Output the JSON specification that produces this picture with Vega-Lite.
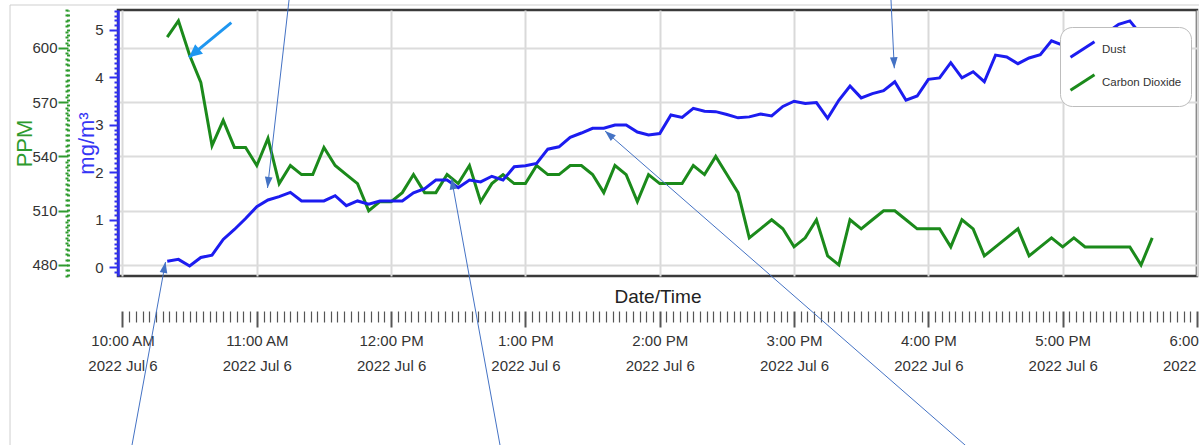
{
  "$schema": "https://vega.github.io/schema/vega-lite/v6.json",
  "width": 1079,
  "height": 266,
  "autosize": "none",
  "padding": {"left": 118, "top": 10, "right": 2, "bottom": 169},
  "background": "white",
  "config": {
    "view": {"stroke": "#3a3a3a", "strokeWidth": 2.5},
    "axis": {
      "labelFont": "Liberation Sans, Arial, sans-serif",
      "titleFont": "Liberation Sans, Arial, sans-serif",
      "titleFontWeight": "normal"
    },
    "legend": {"labelFont": "Liberation Sans, Arial, sans-serif"}
  },
  "datasets": {
    "readings": [
      {"time": "2022-07-06T10:20:00", "dust": 0.13, "co2": 606},
      {"time": "2022-07-06T10:25:00", "dust": 0.17, "co2": 615},
      {"time": "2022-07-06T10:30:00", "dust": 0.03, "co2": 596},
      {"time": "2022-07-06T10:35:00", "dust": 0.21, "co2": 581},
      {"time": "2022-07-06T10:40:00", "dust": 0.26, "co2": 546},
      {"time": "2022-07-06T10:45:00", "dust": 0.59, "co2": 560},
      {"time": "2022-07-06T10:50:00", "dust": 0.80, "co2": 545},
      {"time": "2022-07-06T10:55:00", "dust": 1.03, "co2": 545},
      {"time": "2022-07-06T11:00:00", "dust": 1.28, "co2": 535},
      {"time": "2022-07-06T11:05:00", "dust": 1.42, "co2": 550},
      {"time": "2022-07-06T11:10:00", "dust": 1.49, "co2": 525},
      {"time": "2022-07-06T11:15:00", "dust": 1.58, "co2": 535},
      {"time": "2022-07-06T11:20:00", "dust": 1.40, "co2": 530},
      {"time": "2022-07-06T11:25:00", "dust": 1.40, "co2": 530},
      {"time": "2022-07-06T11:30:00", "dust": 1.40, "co2": 545},
      {"time": "2022-07-06T11:35:00", "dust": 1.51, "co2": 535},
      {"time": "2022-07-06T11:40:00", "dust": 1.30, "co2": 530},
      {"time": "2022-07-06T11:45:00", "dust": 1.40, "co2": 525},
      {"time": "2022-07-06T11:50:00", "dust": 1.33, "co2": 510},
      {"time": "2022-07-06T11:55:00", "dust": 1.40, "co2": 515},
      {"time": "2022-07-06T12:00:00", "dust": 1.40, "co2": 515},
      {"time": "2022-07-06T12:05:00", "dust": 1.40, "co2": 520},
      {"time": "2022-07-06T12:10:00", "dust": 1.57, "co2": 530},
      {"time": "2022-07-06T12:15:00", "dust": 1.66, "co2": 520},
      {"time": "2022-07-06T12:20:00", "dust": 1.84, "co2": 520},
      {"time": "2022-07-06T12:25:00", "dust": 1.84, "co2": 530},
      {"time": "2022-07-06T12:30:00", "dust": 1.68, "co2": 525},
      {"time": "2022-07-06T12:35:00", "dust": 1.84, "co2": 535},
      {"time": "2022-07-06T12:40:00", "dust": 1.80, "co2": 515},
      {"time": "2022-07-06T12:45:00", "dust": 1.92, "co2": 525},
      {"time": "2022-07-06T12:50:00", "dust": 1.84, "co2": 530},
      {"time": "2022-07-06T12:55:00", "dust": 2.12, "co2": 525},
      {"time": "2022-07-06T13:00:00", "dust": 2.14, "co2": 525},
      {"time": "2022-07-06T13:05:00", "dust": 2.19, "co2": 535},
      {"time": "2022-07-06T13:10:00", "dust": 2.49, "co2": 530},
      {"time": "2022-07-06T13:15:00", "dust": 2.54, "co2": 530},
      {"time": "2022-07-06T13:20:00", "dust": 2.74, "co2": 535},
      {"time": "2022-07-06T13:25:00", "dust": 2.83, "co2": 535},
      {"time": "2022-07-06T13:30:00", "dust": 2.93, "co2": 530},
      {"time": "2022-07-06T13:35:00", "dust": 2.93, "co2": 520},
      {"time": "2022-07-06T13:40:00", "dust": 3.00, "co2": 535},
      {"time": "2022-07-06T13:45:00", "dust": 3.00, "co2": 530},
      {"time": "2022-07-06T13:50:00", "dust": 2.85, "co2": 515},
      {"time": "2022-07-06T13:55:00", "dust": 2.79, "co2": 530},
      {"time": "2022-07-06T14:00:00", "dust": 2.82, "co2": 525},
      {"time": "2022-07-06T14:05:00", "dust": 3.21, "co2": 525},
      {"time": "2022-07-06T14:10:00", "dust": 3.16, "co2": 525},
      {"time": "2022-07-06T14:15:00", "dust": 3.35, "co2": 535},
      {"time": "2022-07-06T14:20:00", "dust": 3.29, "co2": 530},
      {"time": "2022-07-06T14:25:00", "dust": 3.28, "co2": 540},
      {"time": "2022-07-06T14:30:00", "dust": 3.22, "co2": 530},
      {"time": "2022-07-06T14:35:00", "dust": 3.15, "co2": 520},
      {"time": "2022-07-06T14:40:00", "dust": 3.17, "co2": 495},
      {"time": "2022-07-06T14:45:00", "dust": 3.23, "co2": 500},
      {"time": "2022-07-06T14:50:00", "dust": 3.19, "co2": 505},
      {"time": "2022-07-06T14:55:00", "dust": 3.39, "co2": 500},
      {"time": "2022-07-06T15:00:00", "dust": 3.50, "co2": 490},
      {"time": "2022-07-06T15:05:00", "dust": 3.45, "co2": 495},
      {"time": "2022-07-06T15:10:00", "dust": 3.47, "co2": 505},
      {"time": "2022-07-06T15:15:00", "dust": 3.14, "co2": 485},
      {"time": "2022-07-06T15:20:00", "dust": 3.52, "co2": 480},
      {"time": "2022-07-06T15:25:00", "dust": 3.82, "co2": 505},
      {"time": "2022-07-06T15:30:00", "dust": 3.57, "co2": 500},
      {"time": "2022-07-06T15:35:00", "dust": 3.66, "co2": 505},
      {"time": "2022-07-06T15:40:00", "dust": 3.72, "co2": 510},
      {"time": "2022-07-06T15:45:00", "dust": 3.91, "co2": 510},
      {"time": "2022-07-06T15:50:00", "dust": 3.52, "co2": 505},
      {"time": "2022-07-06T15:55:00", "dust": 3.61, "co2": 500},
      {"time": "2022-07-06T16:00:00", "dust": 3.96, "co2": 500},
      {"time": "2022-07-06T16:05:00", "dust": 3.99, "co2": 500},
      {"time": "2022-07-06T16:10:00", "dust": 4.31, "co2": 490},
      {"time": "2022-07-06T16:15:00", "dust": 3.99, "co2": 505},
      {"time": "2022-07-06T16:20:00", "dust": 4.12, "co2": 500},
      {"time": "2022-07-06T16:25:00", "dust": 3.91, "co2": 485},
      {"time": "2022-07-06T16:30:00", "dust": 4.47, "co2": 490},
      {"time": "2022-07-06T16:35:00", "dust": 4.43, "co2": 495},
      {"time": "2022-07-06T16:40:00", "dust": 4.29, "co2": 500},
      {"time": "2022-07-06T16:45:00", "dust": 4.41, "co2": 485},
      {"time": "2022-07-06T16:50:00", "dust": 4.48, "co2": 490},
      {"time": "2022-07-06T16:55:00", "dust": 4.77, "co2": 495},
      {"time": "2022-07-06T17:00:00", "dust": 4.68, "co2": 490},
      {"time": "2022-07-06T17:05:00", "dust": 4.75, "co2": 495},
      {"time": "2022-07-06T17:10:00", "dust": 4.85, "co2": 490},
      {"time": "2022-07-06T17:15:00", "dust": 4.80, "co2": 490},
      {"time": "2022-07-06T17:20:00", "dust": 4.95, "co2": 490},
      {"time": "2022-07-06T17:25:00", "dust": 5.12, "co2": 490},
      {"time": "2022-07-06T17:30:00", "dust": 5.19, "co2": 490},
      {"time": "2022-07-06T17:35:00", "dust": 4.90, "co2": 480},
      {"time": "2022-07-06T17:40:00", "co2": 495}
    ],
    "arrows": [
      {"id": "A1", "t0": "2022-07-06T11:14:37", "v0": 5.715, "t1": "2022-07-06T11:04:47", "v1": 1.673},
      {"id": "A2", "t0": "2022-07-06T10:03:56", "v0": -3.822, "t1": "2022-07-06T10:19:13", "v1": 0.115},
      {"id": "A3", "t0": "2022-07-06T12:48:58", "v0": -3.822, "t1": "2022-07-06T12:26:59", "v1": 1.873},
      {"id": "A4", "t0": "2022-07-06T16:18:25", "v0": -3.822, "t1": "2022-07-06T13:35:33", "v1": 2.873},
      {"id": "A5", "t0": "2022-07-06T15:43:13", "v0": 5.715, "t1": "2022-07-06T15:44:47", "v1": 4.193},
      {"id": "A6", "t0": "2022-07-06T10:48:37", "v0": 5.153, "t1": "2022-07-06T10:29:43", "v1": 4.424}
    ],
    "frame": [
      {"t0": "2022-07-06T09:09:46", "t1": "2022-07-06T18:10:00", "v0": 5.525, "v1": 5.525},
      {"t0": "2022-07-06T09:09:46", "t1": "2022-07-06T09:09:46", "v0": 5.525, "v1": -4.0}
    ]
  },
  "layer": [
    {
      "data": {"name": "readings"},
      "mark": {"type": "line", "strokeWidth": 3},
      "encoding": {
        "x": {
          "field": "time", "type": "temporal",
          "scale": {"domain": [{"year": 2022, "month": 7, "date": 6, "hours": 9, "minutes": 58}, {"year": 2022, "month": 7, "date": 6, "hours": 18}]},
          "axis": {
            "orient": "bottom", "offset": 35, "domain": false,
            "values": [
              {"year": 2022, "month": 7, "date": 6, "hours": 10},
              {"year": 2022, "month": 7, "date": 6, "hours": 11},
              {"year": 2022, "month": 7, "date": 6, "hours": 12},
              {"year": 2022, "month": 7, "date": 6, "hours": 13},
              {"year": 2022, "month": 7, "date": 6, "hours": 14},
              {"year": 2022, "month": 7, "date": 6, "hours": 15},
              {"year": 2022, "month": 7, "date": 6, "hours": 16},
              {"year": 2022, "month": 7, "date": 6, "hours": 17},
              {"year": 2022, "month": 7, "date": 6, "hours": 18}
            ],
            "grid": true, "gridColor": "#d9d9d9", "gridWidth": 2,
            "tickColor": "#555555", "tickWidth": 2, "tickSize": 16,
            "labelExpr": "[timeFormat(datum.value, '%-I:%M %p'), timeFormat(datum.value, '%Y %b %-d')]",
            "labelOverlap": false, "labelFlush": false, "labelBound": false,
            "labelFontSize": 15, "labelColor": "#333333", "labelPadding": 6, "labelLineHeight": 25, "labelBaseline": "top",
            "title": "Date/Time", "titleFontSize": 19, "titleColor": "#222222", "titleY": -15, "titleBaseline": "middle"
          }
        },
        "y": {
          "field": "co2", "type": "quantitative",
          "scale": {"domain": [473.9, 621], "nice": false, "zero": false},
          "axis": {
            "orient": "left", "offset": 50,
            "values": [474,477,480,483,486,489,492,495,498,501,504,507,510,513,516,519,522,525,528,531,534,537,540,543,546,549,552,555,558,561,564,567,570,573,576,579,582,585,588,591,594,597,600,603,606,609,612,615,618,621],
            "grid": true, "gridColor": "#dcdcdc", "gridWidth": 2,
            "gridOpacity": {"condition": {"test": "datum.value % 30 == 0", "value": 1}, "value": 0},
            "domain": true, "domainColor": "#2e9b2e", "domainWidth": 3, "domainDash": [2, 3],
            "tickColor": "#2e9b2e",
            "tickSize": {"condition": {"test": "datum.value % 30 == 0", "value": 10}, "value": 3},
            "tickWidth": 2,
            "labelExpr": "datum.value % 30 == 0 ? datum.label : ''",
            "labelOverlap": false, "labelBound": false,
            "labelFontSize": 15, "labelColor": "#333333", "labelPadding": 1,
            "title": "PPM", "titleColor": "#2e9b2e", "titleFontSize": 22,
            "titleX": -44, "titleY": 133, "titleBaseline": "middle", "titleAlign": "center", "titleAngle": -90
          }
        },
        "color": {
          "datum": "Carbon Dioxide", "type": "nominal",
          "scale": {"domain": ["Dust", "Carbon Dioxide"], "range": ["#1c1cf0", "#1b8a1b"]},
          "legend": {
            "orient": "none", "legendX": 942, "legendY": 17, "title": null,
            "fillColor": "white", "strokeColor": "#bdbdbd", "cornerRadius": 12, "padding": 9,
            "symbolType": "M-1,0.65L1,-0.65", "symbolSize": 576, "symbolStrokeWidth": 3,
            "labelFontSize": 11.5, "labelColor": "#333333", "labelOffset": 6, "rowPadding": 4
          }
        }
      }
    },
    {
      "layer": [
        {
          "data": {"name": "readings"},
          "mark": {"type": "line", "strokeWidth": 3},
          "encoding": {
            "x": {
              "field": "time", "type": "temporal",
              "scale": {"domain": [{"year": 2022, "month": 7, "date": 6, "hours": 9, "minutes": 58}, {"year": 2022, "month": 7, "date": 6, "hours": 18}]},
              "axis": {
                "orient": "bottom", "offset": 35, "domain": false, "grid": false, "labels": false, "title": null,
                "tickColor": "#555555", "tickWidth": 1.2, "tickSize": 11,
                "values": [
                  {"year":2022,"month":7,"date":6,"hours":10,"minutes":3},{"year":2022,"month":7,"date":6,"hours":10,"minutes":6},{"year":2022,"month":7,"date":6,"hours":10,"minutes":9},{"year":2022,"month":7,"date":6,"hours":10,"minutes":12},{"year":2022,"month":7,"date":6,"hours":10,"minutes":15},{"year":2022,"month":7,"date":6,"hours":10,"minutes":18},{"year":2022,"month":7,"date":6,"hours":10,"minutes":21},{"year":2022,"month":7,"date":6,"hours":10,"minutes":24},{"year":2022,"month":7,"date":6,"hours":10,"minutes":27},{"year":2022,"month":7,"date":6,"hours":10,"minutes":30},{"year":2022,"month":7,"date":6,"hours":10,"minutes":33},{"year":2022,"month":7,"date":6,"hours":10,"minutes":36},{"year":2022,"month":7,"date":6,"hours":10,"minutes":39},{"year":2022,"month":7,"date":6,"hours":10,"minutes":42},{"year":2022,"month":7,"date":6,"hours":10,"minutes":45},{"year":2022,"month":7,"date":6,"hours":10,"minutes":48},{"year":2022,"month":7,"date":6,"hours":10,"minutes":51},{"year":2022,"month":7,"date":6,"hours":10,"minutes":54},{"year":2022,"month":7,"date":6,"hours":10,"minutes":57},
                  {"year":2022,"month":7,"date":6,"hours":11,"minutes":3},{"year":2022,"month":7,"date":6,"hours":11,"minutes":6},{"year":2022,"month":7,"date":6,"hours":11,"minutes":9},{"year":2022,"month":7,"date":6,"hours":11,"minutes":12},{"year":2022,"month":7,"date":6,"hours":11,"minutes":15},{"year":2022,"month":7,"date":6,"hours":11,"minutes":18},{"year":2022,"month":7,"date":6,"hours":11,"minutes":21},{"year":2022,"month":7,"date":6,"hours":11,"minutes":24},{"year":2022,"month":7,"date":6,"hours":11,"minutes":27},{"year":2022,"month":7,"date":6,"hours":11,"minutes":30},{"year":2022,"month":7,"date":6,"hours":11,"minutes":33},{"year":2022,"month":7,"date":6,"hours":11,"minutes":36},{"year":2022,"month":7,"date":6,"hours":11,"minutes":39},{"year":2022,"month":7,"date":6,"hours":11,"minutes":42},{"year":2022,"month":7,"date":6,"hours":11,"minutes":45},{"year":2022,"month":7,"date":6,"hours":11,"minutes":48},{"year":2022,"month":7,"date":6,"hours":11,"minutes":51},{"year":2022,"month":7,"date":6,"hours":11,"minutes":54},{"year":2022,"month":7,"date":6,"hours":11,"minutes":57},
                  {"year":2022,"month":7,"date":6,"hours":12,"minutes":3},{"year":2022,"month":7,"date":6,"hours":12,"minutes":6},{"year":2022,"month":7,"date":6,"hours":12,"minutes":9},{"year":2022,"month":7,"date":6,"hours":12,"minutes":12},{"year":2022,"month":7,"date":6,"hours":12,"minutes":15},{"year":2022,"month":7,"date":6,"hours":12,"minutes":18},{"year":2022,"month":7,"date":6,"hours":12,"minutes":21},{"year":2022,"month":7,"date":6,"hours":12,"minutes":24},{"year":2022,"month":7,"date":6,"hours":12,"minutes":27},{"year":2022,"month":7,"date":6,"hours":12,"minutes":30},{"year":2022,"month":7,"date":6,"hours":12,"minutes":33},{"year":2022,"month":7,"date":6,"hours":12,"minutes":36},{"year":2022,"month":7,"date":6,"hours":12,"minutes":39},{"year":2022,"month":7,"date":6,"hours":12,"minutes":42},{"year":2022,"month":7,"date":6,"hours":12,"minutes":45},{"year":2022,"month":7,"date":6,"hours":12,"minutes":48},{"year":2022,"month":7,"date":6,"hours":12,"minutes":51},{"year":2022,"month":7,"date":6,"hours":12,"minutes":54},{"year":2022,"month":7,"date":6,"hours":12,"minutes":57},
                  {"year":2022,"month":7,"date":6,"hours":13,"minutes":3},{"year":2022,"month":7,"date":6,"hours":13,"minutes":6},{"year":2022,"month":7,"date":6,"hours":13,"minutes":9},{"year":2022,"month":7,"date":6,"hours":13,"minutes":12},{"year":2022,"month":7,"date":6,"hours":13,"minutes":15},{"year":2022,"month":7,"date":6,"hours":13,"minutes":18},{"year":2022,"month":7,"date":6,"hours":13,"minutes":21},{"year":2022,"month":7,"date":6,"hours":13,"minutes":24},{"year":2022,"month":7,"date":6,"hours":13,"minutes":27},{"year":2022,"month":7,"date":6,"hours":13,"minutes":30},{"year":2022,"month":7,"date":6,"hours":13,"minutes":33},{"year":2022,"month":7,"date":6,"hours":13,"minutes":36},{"year":2022,"month":7,"date":6,"hours":13,"minutes":39},{"year":2022,"month":7,"date":6,"hours":13,"minutes":42},{"year":2022,"month":7,"date":6,"hours":13,"minutes":45},{"year":2022,"month":7,"date":6,"hours":13,"minutes":48},{"year":2022,"month":7,"date":6,"hours":13,"minutes":51},{"year":2022,"month":7,"date":6,"hours":13,"minutes":54},{"year":2022,"month":7,"date":6,"hours":13,"minutes":57},
                  {"year":2022,"month":7,"date":6,"hours":14,"minutes":3},{"year":2022,"month":7,"date":6,"hours":14,"minutes":6},{"year":2022,"month":7,"date":6,"hours":14,"minutes":9},{"year":2022,"month":7,"date":6,"hours":14,"minutes":12},{"year":2022,"month":7,"date":6,"hours":14,"minutes":15},{"year":2022,"month":7,"date":6,"hours":14,"minutes":18},{"year":2022,"month":7,"date":6,"hours":14,"minutes":21},{"year":2022,"month":7,"date":6,"hours":14,"minutes":24},{"year":2022,"month":7,"date":6,"hours":14,"minutes":27},{"year":2022,"month":7,"date":6,"hours":14,"minutes":30},{"year":2022,"month":7,"date":6,"hours":14,"minutes":33},{"year":2022,"month":7,"date":6,"hours":14,"minutes":36},{"year":2022,"month":7,"date":6,"hours":14,"minutes":39},{"year":2022,"month":7,"date":6,"hours":14,"minutes":42},{"year":2022,"month":7,"date":6,"hours":14,"minutes":45},{"year":2022,"month":7,"date":6,"hours":14,"minutes":48},{"year":2022,"month":7,"date":6,"hours":14,"minutes":51},{"year":2022,"month":7,"date":6,"hours":14,"minutes":54},{"year":2022,"month":7,"date":6,"hours":14,"minutes":57},
                  {"year":2022,"month":7,"date":6,"hours":15,"minutes":3},{"year":2022,"month":7,"date":6,"hours":15,"minutes":6},{"year":2022,"month":7,"date":6,"hours":15,"minutes":9},{"year":2022,"month":7,"date":6,"hours":15,"minutes":12},{"year":2022,"month":7,"date":6,"hours":15,"minutes":15},{"year":2022,"month":7,"date":6,"hours":15,"minutes":18},{"year":2022,"month":7,"date":6,"hours":15,"minutes":21},{"year":2022,"month":7,"date":6,"hours":15,"minutes":24},{"year":2022,"month":7,"date":6,"hours":15,"minutes":27},{"year":2022,"month":7,"date":6,"hours":15,"minutes":30},{"year":2022,"month":7,"date":6,"hours":15,"minutes":33},{"year":2022,"month":7,"date":6,"hours":15,"minutes":36},{"year":2022,"month":7,"date":6,"hours":15,"minutes":39},{"year":2022,"month":7,"date":6,"hours":15,"minutes":42},{"year":2022,"month":7,"date":6,"hours":15,"minutes":45},{"year":2022,"month":7,"date":6,"hours":15,"minutes":48},{"year":2022,"month":7,"date":6,"hours":15,"minutes":51},{"year":2022,"month":7,"date":6,"hours":15,"minutes":54},{"year":2022,"month":7,"date":6,"hours":15,"minutes":57},
                  {"year":2022,"month":7,"date":6,"hours":16,"minutes":3},{"year":2022,"month":7,"date":6,"hours":16,"minutes":6},{"year":2022,"month":7,"date":6,"hours":16,"minutes":9},{"year":2022,"month":7,"date":6,"hours":16,"minutes":12},{"year":2022,"month":7,"date":6,"hours":16,"minutes":15},{"year":2022,"month":7,"date":6,"hours":16,"minutes":18},{"year":2022,"month":7,"date":6,"hours":16,"minutes":21},{"year":2022,"month":7,"date":6,"hours":16,"minutes":24},{"year":2022,"month":7,"date":6,"hours":16,"minutes":27},{"year":2022,"month":7,"date":6,"hours":16,"minutes":30},{"year":2022,"month":7,"date":6,"hours":16,"minutes":33},{"year":2022,"month":7,"date":6,"hours":16,"minutes":36},{"year":2022,"month":7,"date":6,"hours":16,"minutes":39},{"year":2022,"month":7,"date":6,"hours":16,"minutes":42},{"year":2022,"month":7,"date":6,"hours":16,"minutes":45},{"year":2022,"month":7,"date":6,"hours":16,"minutes":48},{"year":2022,"month":7,"date":6,"hours":16,"minutes":51},{"year":2022,"month":7,"date":6,"hours":16,"minutes":54},{"year":2022,"month":7,"date":6,"hours":16,"minutes":57},
                  {"year":2022,"month":7,"date":6,"hours":17,"minutes":3},{"year":2022,"month":7,"date":6,"hours":17,"minutes":6},{"year":2022,"month":7,"date":6,"hours":17,"minutes":9},{"year":2022,"month":7,"date":6,"hours":17,"minutes":12},{"year":2022,"month":7,"date":6,"hours":17,"minutes":15},{"year":2022,"month":7,"date":6,"hours":17,"minutes":18},{"year":2022,"month":7,"date":6,"hours":17,"minutes":21},{"year":2022,"month":7,"date":6,"hours":17,"minutes":24},{"year":2022,"month":7,"date":6,"hours":17,"minutes":27},{"year":2022,"month":7,"date":6,"hours":17,"minutes":30},{"year":2022,"month":7,"date":6,"hours":17,"minutes":33},{"year":2022,"month":7,"date":6,"hours":17,"minutes":36},{"year":2022,"month":7,"date":6,"hours":17,"minutes":39},{"year":2022,"month":7,"date":6,"hours":17,"minutes":42},{"year":2022,"month":7,"date":6,"hours":17,"minutes":45},{"year":2022,"month":7,"date":6,"hours":17,"minutes":48},{"year":2022,"month":7,"date":6,"hours":17,"minutes":51},{"year":2022,"month":7,"date":6,"hours":17,"minutes":54},{"year":2022,"month":7,"date":6,"hours":17,"minutes":57}
                ]
              }
            },
            "y": {
              "field": "dust", "type": "quantitative",
              "scale": {"domain": [-0.18, 5.42], "nice": false, "zero": false},
              "axis": {
                "orient": "left", "offset": 0,
                "values": [-0.1,0,0.1,0.2,0.3,0.4,0.5,0.6,0.7,0.8,0.9,1,1.1,1.2,1.3,1.4,1.5,1.6,1.7,1.8,1.9,2,2.1,2.2,2.3,2.4,2.5,2.6,2.7,2.8,2.9,3,3.1,3.2,3.3,3.4,3.5,3.6,3.7,3.8,3.9,4,4.1,4.2,4.3,4.4,4.5,4.6,4.7,4.8,4.9,5,5.1,5.2,5.3,5.4],
                "grid": false,
                "domain": true, "domainColor": "#3030f0", "domainWidth": 2.5,
                "tickColor": "#3030f0", "tickWidth": 2,
                "tickSize": {"condition": {"test": "abs(datum.value - round(datum.value)) < 0.001", "value": 9}, "value": 4},
                "labelExpr": "abs(datum.value - round(datum.value)) < 0.001 ? format(datum.value, 'd') : ''",
                "labelOverlap": false, "labelBound": false,
                "labelFontSize": 15, "labelColor": "#333333", "labelPadding": 6,
                "title": "mg/m³", "titleColor": "#3535f5", "titleFontSize": 22,
                "titleX": -32, "titleY": 133, "titleBaseline": "middle", "titleAlign": "center", "titleAngle": -90
              }
            },
            "color": {"datum": "Dust", "type": "nominal"}
          }
        },
        {
          "data": {"name": "frame"},
          "mark": {"type": "rule", "color": "#cfcfcf", "strokeWidth": 1, "clip": false},
          "encoding": {
            "x": {"field": "t0", "type": "temporal", "scale": {"domain": [{"year": 2022, "month": 7, "date": 6, "hours": 9, "minutes": 58}, {"year": 2022, "month": 7, "date": 6, "hours": 18}]}, "axis": null},
            "x2": {"field": "t1"},
            "y": {"field": "v0", "type": "quantitative", "scale": {"domain": [-0.18, 5.42], "nice": false, "zero": false}, "axis": null},
            "y2": {"field": "v1"}
          }
        },
        {
          "data": {"name": "arrows"},
          "transform": [{"filter": "datum.id != 'A6'"}],
          "mark": {"type": "rule", "color": "#4472c4", "strokeWidth": 1, "clip": false},
          "encoding": {
            "x": {"field": "t0", "type": "temporal", "scale": {"domain": [{"year": 2022, "month": 7, "date": 6, "hours": 9, "minutes": 58}, {"year": 2022, "month": 7, "date": 6, "hours": 18}]}, "axis": null},
            "x2": {"field": "t1"},
            "y": {"field": "v0", "type": "quantitative", "scale": {"domain": [-0.18, 5.42], "nice": false, "zero": false}, "axis": null},
            "y2": {"field": "v1"}
          }
        },
        {
          "data": {"name": "arrows"},
          "transform": [{"filter": "datum.id == 'A6'"}],
          "mark": {"type": "rule", "color": "#1e96f0", "strokeWidth": 3, "clip": false},
          "encoding": {
            "x": {"field": "t0", "type": "temporal", "scale": {"domain": [{"year": 2022, "month": 7, "date": 6, "hours": 9, "minutes": 58}, {"year": 2022, "month": 7, "date": 6, "hours": 18}]}, "axis": null},
            "x2": {"field": "t1"},
            "y": {"field": "v0", "type": "quantitative", "scale": {"domain": [-0.18, 5.42], "nice": false, "zero": false}, "axis": null},
            "y2": {"field": "v1"}
          }
        },
        {
          "data": {"name": "arrows"},
          "transform": [{"filter": "datum.id == 'A1'"}],
          "mark": {"type": "point", "shape": "M0,0L-0.7,2L0.7,2Z", "size": 121, "angle": 186.5, "filled": true, "color": "#4472c4", "opacity": 1, "clip": false},
          "encoding": {
            "x": {"field": "t1", "type": "temporal", "scale": {"domain": [{"year": 2022, "month": 7, "date": 6, "hours": 9, "minutes": 58}, {"year": 2022, "month": 7, "date": 6, "hours": 18}]}, "axis": null},
            "y": {"field": "v1", "type": "quantitative", "scale": {"domain": [-0.18, 5.42], "nice": false, "zero": false}, "axis": null}
          }
        },
        {
          "data": {"name": "arrows"},
          "transform": [{"filter": "datum.id == 'A2'"}],
          "mark": {"type": "point", "shape": "M0,0L-0.7,2L0.7,2Z", "size": 121, "angle": 10.4, "filled": true, "color": "#4472c4", "opacity": 1, "clip": false},
          "encoding": {
            "x": {"field": "t1", "type": "temporal", "scale": {"domain": [{"year": 2022, "month": 7, "date": 6, "hours": 9, "minutes": 58}, {"year": 2022, "month": 7, "date": 6, "hours": 18}]}, "axis": null},
            "y": {"field": "v1", "type": "quantitative", "scale": {"domain": [-0.18, 5.42], "nice": false, "zero": false}, "axis": null}
          }
        },
        {
          "data": {"name": "arrows"},
          "transform": [{"filter": "datum.id == 'A3'"}],
          "mark": {"type": "point", "shape": "M0,0L-0.7,2L0.7,2Z", "size": 121, "angle": 349.7, "filled": true, "color": "#4472c4", "opacity": 1, "clip": false},
          "encoding": {
            "x": {"field": "t1", "type": "temporal", "scale": {"domain": [{"year": 2022, "month": 7, "date": 6, "hours": 9, "minutes": 58}, {"year": 2022, "month": 7, "date": 6, "hours": 18}]}, "axis": null},
            "y": {"field": "v1", "type": "quantitative", "scale": {"domain": [-0.18, 5.42], "nice": false, "zero": false}, "axis": null}
          }
        },
        {
          "data": {"name": "arrows"},
          "transform": [{"filter": "datum.id == 'A4'"}],
          "mark": {"type": "point", "shape": "M0,0L-0.7,2L0.7,2Z", "size": 121, "angle": 311.1, "filled": true, "color": "#4472c4", "opacity": 1, "clip": false},
          "encoding": {
            "x": {"field": "t1", "type": "temporal", "scale": {"domain": [{"year": 2022, "month": 7, "date": 6, "hours": 9, "minutes": 58}, {"year": 2022, "month": 7, "date": 6, "hours": 18}]}, "axis": null},
            "y": {"field": "v1", "type": "quantitative", "scale": {"domain": [-0.18, 5.42], "nice": false, "zero": false}, "axis": null}
          }
        },
        {
          "data": {"name": "arrows"},
          "transform": [{"filter": "datum.id == 'A5'"}],
          "mark": {"type": "point", "shape": "M0,0L-0.7,2L0.7,2Z", "size": 121, "angle": 177.2, "filled": true, "color": "#4472c4", "opacity": 1, "clip": false},
          "encoding": {
            "x": {"field": "t1", "type": "temporal", "scale": {"domain": [{"year": 2022, "month": 7, "date": 6, "hours": 9, "minutes": 58}, {"year": 2022, "month": 7, "date": 6, "hours": 18}]}, "axis": null},
            "y": {"field": "v1", "type": "quantitative", "scale": {"domain": [-0.18, 5.42], "nice": false, "zero": false}, "axis": null}
          }
        },
        {
          "data": {"name": "arrows"},
          "transform": [{"filter": "datum.id == 'A6'"}],
          "mark": {"type": "point", "shape": "M0,0L-0.95,2L0.95,2Z", "size": 169, "angle": 230.7, "filled": true, "color": "#1e96f0", "opacity": 1, "clip": false},
          "encoding": {
            "x": {"field": "t1", "type": "temporal", "scale": {"domain": [{"year": 2022, "month": 7, "date": 6, "hours": 9, "minutes": 58}, {"year": 2022, "month": 7, "date": 6, "hours": 18}]}, "axis": null},
            "y": {"field": "v1", "type": "quantitative", "scale": {"domain": [-0.18, 5.42], "nice": false, "zero": false}, "axis": null}
          }
        }
      ],
      "resolve": {"axis": {"x": "independent", "y": "independent"}}
    }
  ],
  "resolve": {"scale": {"y": "independent"}, "axis": {"x": "independent", "y": "independent"}}
}
